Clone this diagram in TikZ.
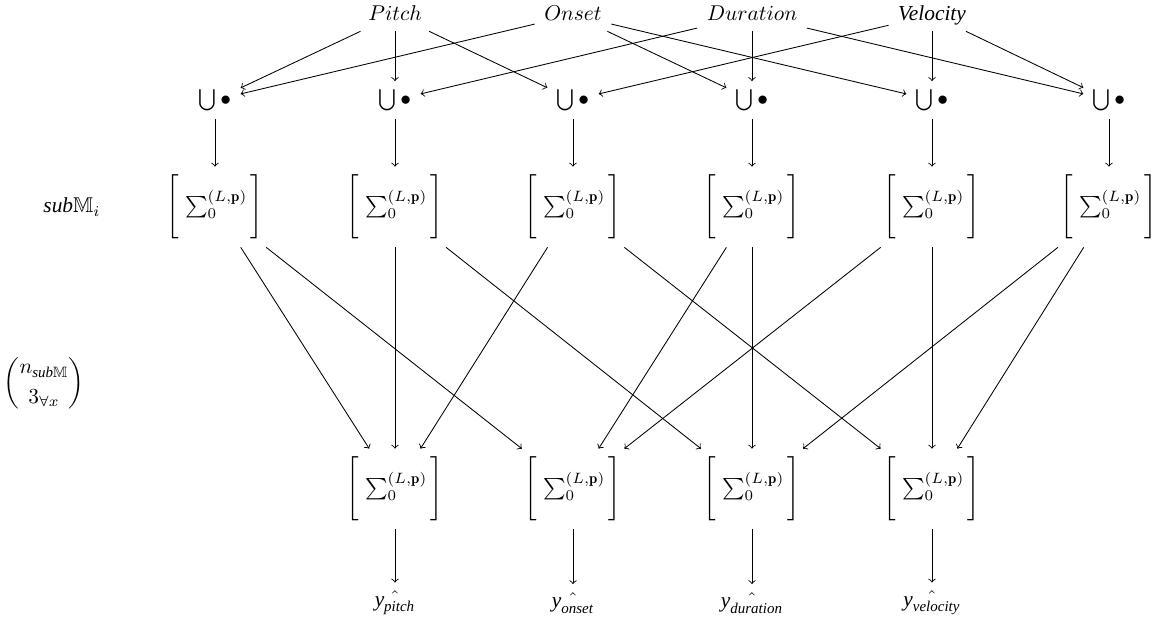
\documentclass[tikz,border=0pt]{standalone}
\usepackage{amsmath,amssymb}
\usepackage{fontspec}
\newfontfamily\timesit{Liberation Serif Italic}
\newcommand{\ti}[1]{\text{\timesit #1}}
\newcommand{\sumbox}{$\Biggl[\;\sum_0^{(L,\mathbf{p})}\,\Biggr]$}
\begin{document}
\begin{tikzpicture}[x=0.4675pt,y=-0.4675pt,
    cell/.style={inner xsep=1ex,inner ysep=0.85ex}]
    \useasboundingbox (0,0) rectangle (1156,617);
      \def \Inputs{
        pitch/395/$Pitch$,
        onset/573/$Onset$,
        duration/752/$Duration$,
        velocity/932/{\timesit Velocity}}
      \def \Columns{
        1/215,
        2/395,
        3/573,
        4/752,
        5/932,
        6/1109}
      \def \Outputs{
        1/395/pitch,
        2/573/onset,
        3/752/duration,
        4/932/velocity}
      \def \Edges{
        pitch/u1, onset/u1,
        pitch/u2, duration/u2,
        pitch/u3, velocity/u3,
        onset/u4, duration/u4,
        onset/u5, velocity/u5,
        duration/u6, velocity/u6,
        u1/s1, u2/s2, u3/s3, u4/s4, u5/s5, u6/s6,
        s1/b1, s2/b1, s3/b1,
        s1/b2, s4/b2, s5/b2,
        s2/b3, s4/b3, s6/b3,
        s3/b4, s5/b4, s6/b4,
        b1/hat1, b2/hat2, b3/hat3, b4/hat4}
      \foreach \id / \x / \name in \Inputs{
        \node[cell,text height=1.5ex,text depth=.25ex] (\id) at (\x, 15) {\name};
      }
      \foreach \id / \x in \Columns{
        \node[cell] (u\id) at (\x, 100) {$\bigcup\bullet$};
        \node[cell] (s\id) at (\x, 207) {\sumbox};
      }
      \foreach \id / \x / \name in \Outputs{
        \node[cell] (b\id) at (\x, 489) {\sumbox};
        \node[cell] (hat\id) at (\x, 603) {$\hat{\ti{y}_{\ti{\name}}}$};
      }
      % row labels
      \node[cell] (subm) at (72, 207) {$\ti{sub}\mathbb{M}_i$};
      \node[cell] (choose) at (44, 383) {$\dbinom{n_{\ti{sub}\mathbb{M}}}{3_{\forall x}}$};
      \foreach \x / \y in \Edges{
        \path[draw,->] (\x) -- (\y);
      }
    \end{tikzpicture}
\end{document}
